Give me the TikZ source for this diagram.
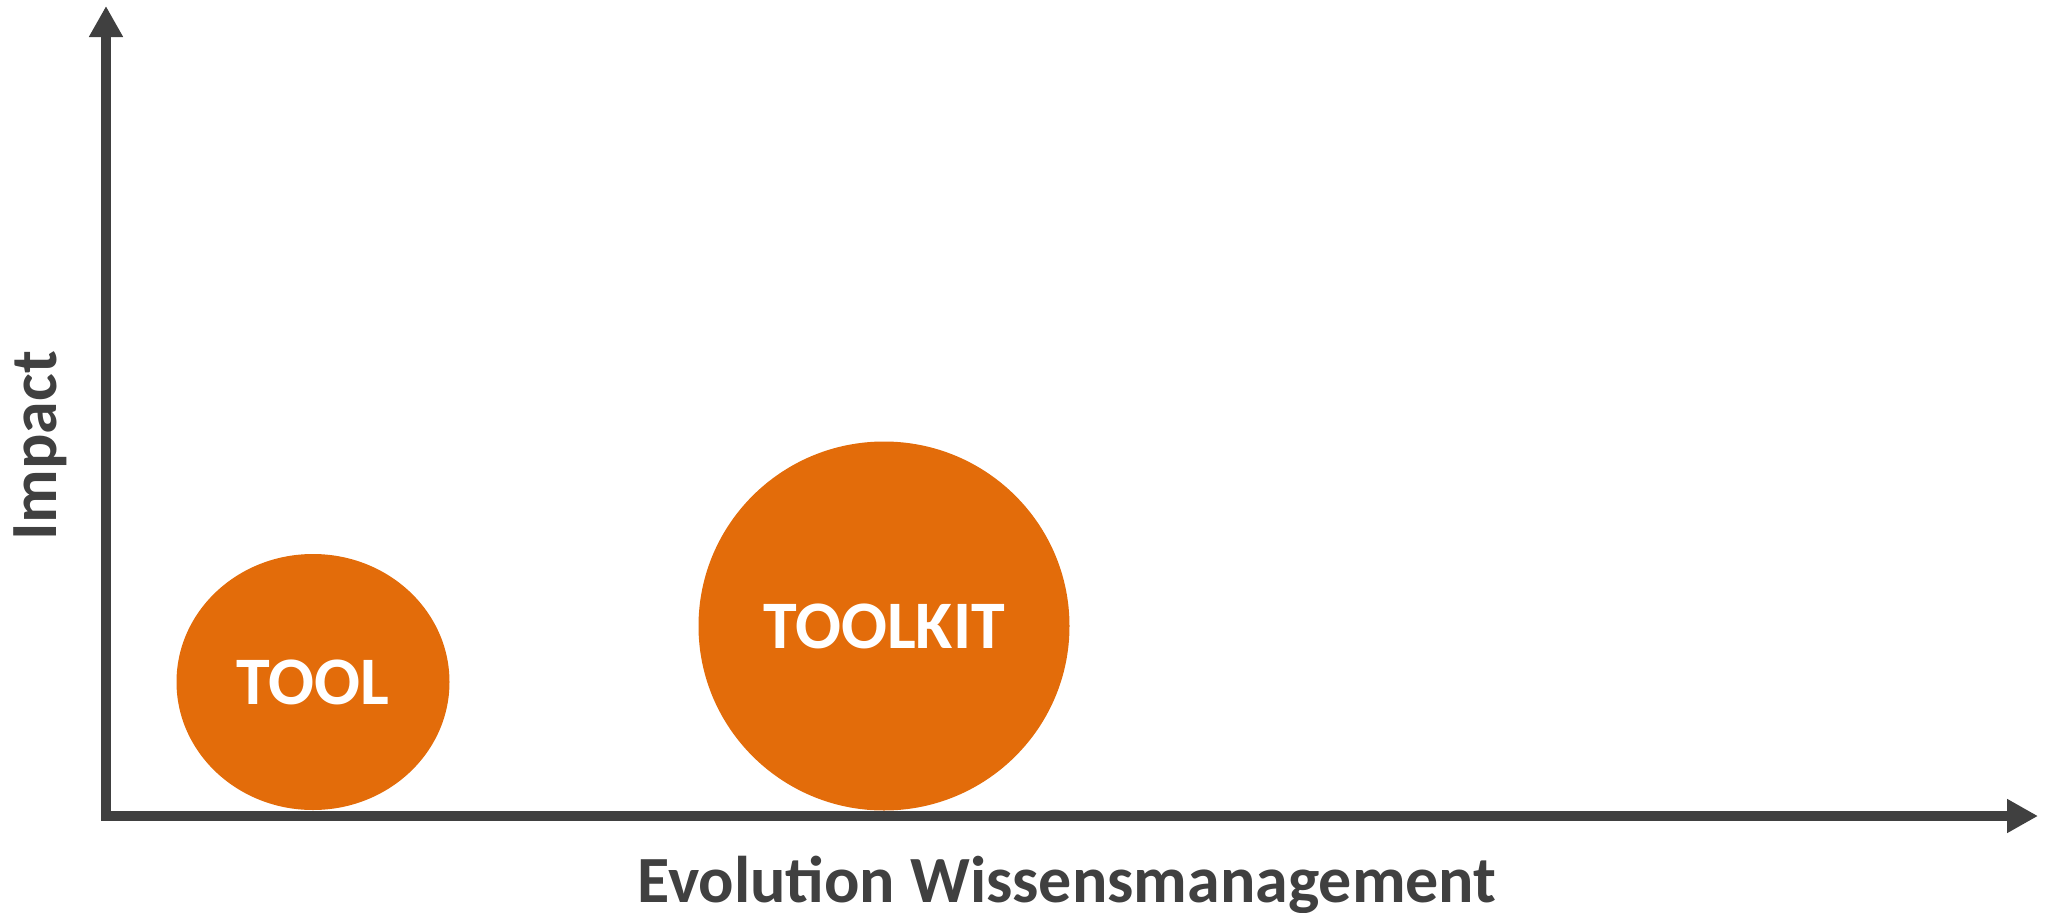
\documentclass[tikz,border=0pt]{standalone}
\usepackage{fontspec}
\setmainfont{Carlito}
\usepackage{xcolor}
\usetikzlibrary{arrows.meta}
\usetikzlibrary{shapes.geometric}

\definecolor{axisgray}{HTML}{404040}
\definecolor{bubbleorange}{HTML}{E36C0A}

\begin{document}
\begin{tikzpicture}[x=1pt,y=-1pt,
                    axis/.style={draw=axisgray,line width=10.5pt,line join=miter,
                      -{Triangle[length=31pt,width=32pt]}},
                    bubble/.style={ellipse,fill=bubbleorange,inner sep=0pt,text=white,
                      font=\fontsize{68}{80}\selectfont\bfseries},
                    axis label/.style={text=axisgray,inner sep=0pt,
                      font=\fontsize{66}{78}\selectfont\bfseries}]
\useasboundingbox (0,0) rectangle (2051,913);

\coordinate (origin) at (106,816);
\coordinate (ytop) at (106,6);
\coordinate (xend) at (2038,816);

% the two bubbles
\node[bubble, minimum width=273pt, minimum height=256pt] (tool) at (313,682) {TOOL};
\node[bubble, minimum width=371pt, minimum height=369pt] (toolkit) at (884,626) {TOOLKIT};

% axes
\draw[axis, {Triangle[length=31pt,width=32pt]}-{Triangle[length=31pt,width=32pt]}]
  (ytop) -- (origin) -- (xend);

\node[axis label, anchor=base] (xlabel) at (1067,902) {Evolution Wissensmanagement};
\node[axis label, anchor=base, rotate=90] (ylabel) at (56,446) {Impact};
\end{tikzpicture}
\end{document}
